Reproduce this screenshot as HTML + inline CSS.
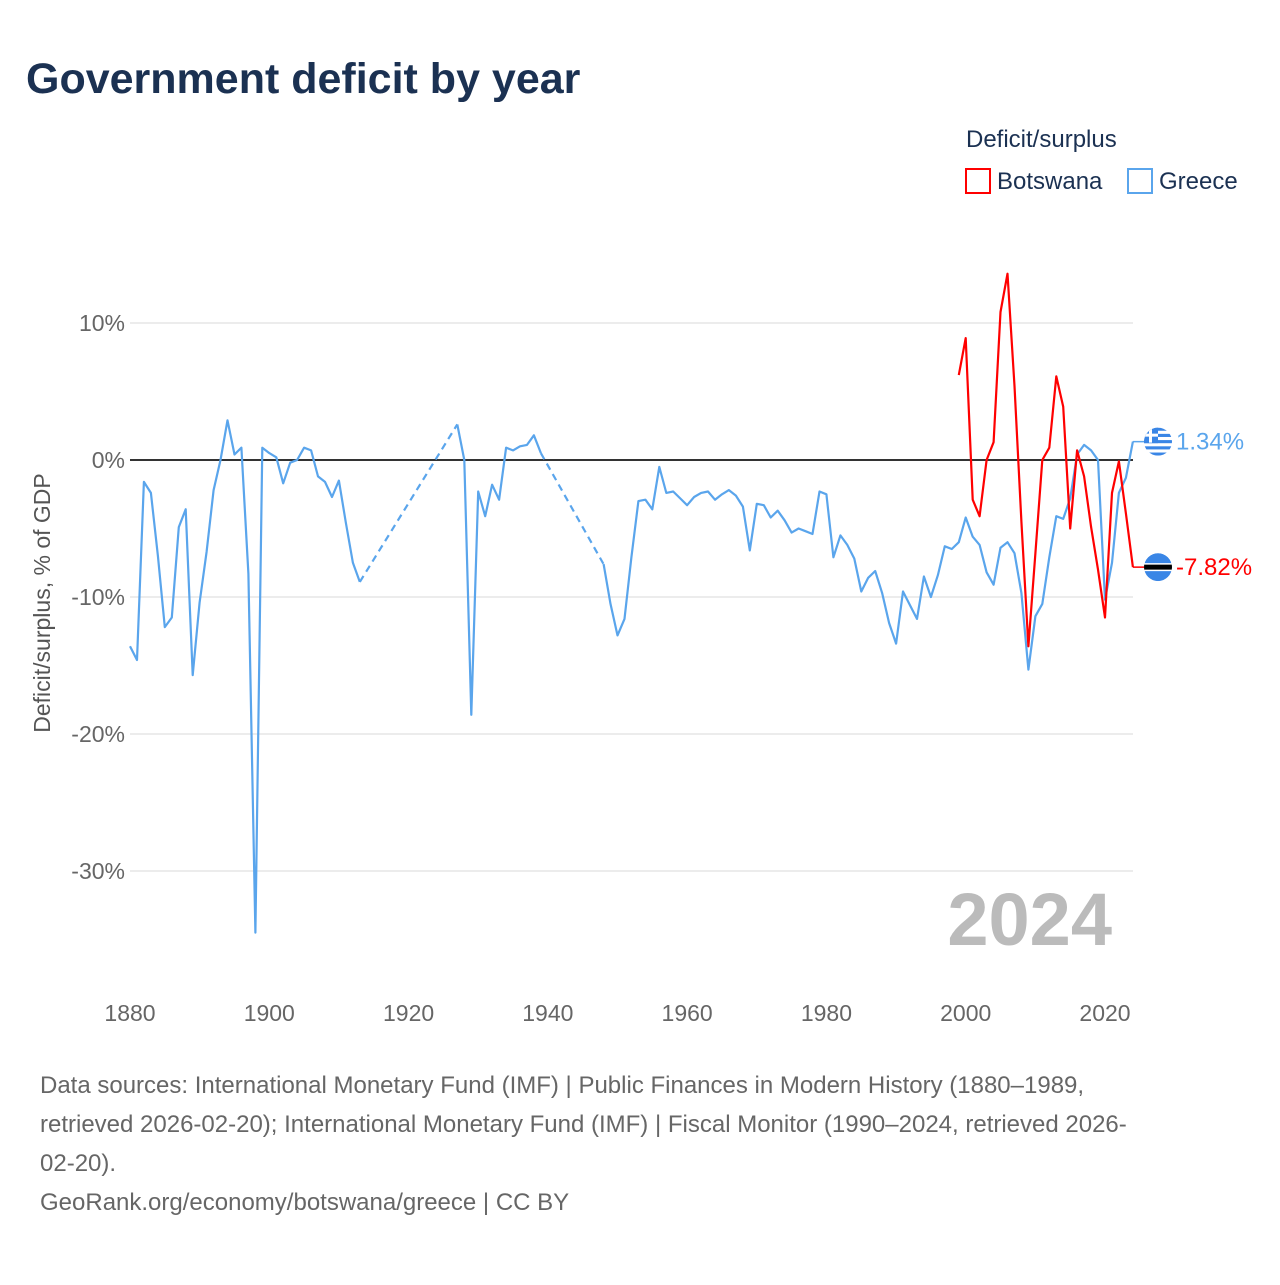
<!DOCTYPE html>
<html><head><meta charset="utf-8"><style>
body{margin:0;background:#fff;font-family:"Liberation Sans",sans-serif;}
svg text{font-family:"Liberation Sans",sans-serif;}
</style></head><body>
<svg id="chart" width="1280" height="1280" xmlns="http://www.w3.org/2000/svg">
<defs>
<clipPath id="clipG"><circle cx="1158" cy="442" r="14"/></clipPath>
</defs>
<text x="26" y="93" font-size="43" font-weight="bold" fill="#1b3152">Government deficit by year</text>
<g>
<text x="966" y="147" font-size="24" fill="#1b3152">Deficit/surplus</text>
<rect x="966" y="169" width="24" height="24" fill="none" stroke="#ff0000" stroke-width="2"/>
<text x="997" y="189" font-size="24" fill="#1b3152">Botswana</text>
<rect x="1128" y="169" width="24" height="24" fill="none" stroke="#5aa5ec" stroke-width="2"/>
<text x="1159" y="189" font-size="24" fill="#1b3152">Greece</text>
</g>
<text transform="translate(50,603) rotate(-90)" text-anchor="middle" font-size="23" fill="#555">Deficit/surplus, % of GDP</text>
<g id="grid"></g><g id="series"></g>
<text x="1112" y="945" text-anchor="end" font-size="74" font-weight="bold" fill="#bbbbbb">2024</text>
<g font-size="24" fill="#666">
<text x="40" y="1093">Data sources: International Monetary Fund (IMF) | Public Finances in Modern History (1880–1989,</text>
<text x="40" y="1132">retrieved 2026-02-20); International Monetary Fund (IMF) | Fiscal Monitor (1990–2024, retrieved 2026-</text>
<text x="40" y="1171">02-20).</text>
<text x="40" y="1210">GeoRank.org/economy/botswana/greece | CC BY</text>
</g>
</svg>
<script>
const yTicks=[10,0,-10,-20,-30];
const yTickLabels=["10%","0%","-10%","-20%","-30%"];
const xTicks=[1880,1900,1920,1940,1960,1980,2000,2020];
const greeceYearsA=[1880,1881,1882,1883,1884,1885,1886,1887,1888,1889,1890,1891,1892,1893,1894,1895,1896,1897,1898,1899,1900,1901,1902,1903,1904,1905,1906,1907,1908,1909,1910,1911,1912,1913];
const greeceValsA=[-13.6,-14.6,-1.6,-2.4,-7,-12.2,-11.5,-4.9,-3.6,-15.7,-10.4,-6.7,-2.2,0,2.9,0.4,0.9,-8.3,-34.5,0.9,0.5,0.2,-1.7,-0.2,0,0.9,0.7,-1.2,-1.6,-2.7,-1.5,-4.6,-7.5,-8.9];
const greeceYearsB=[1927,1928,1929,1930,1931,1932,1933,1934,1935,1936,1937,1938,1939];
const greeceValsB=[2.6,0,-18.6,-2.3,-4.1,-1.8,-2.9,0.9,0.7,1.0,1.1,1.8,0.5];
const greeceYearsC=[1948,1949,1950,1951,1952,1953,1954,1955,1956,1957,1958,1959,1960,1961,1962,1963,1964,1965,1966,1967,1968,1969,1970,1971,1972,1973,1974,1975,1976,1977,1978,1979,1980,1981,1982,1983,1984,1985,1986,1987,1988,1989,1990,1991,1992,1993,1994,1995,1996,1997,1998,1999,2000,2001,2002,2003,2004,2005,2006,2007,2008,2009,2010,2011,2012,2013,2014,2015,2016,2017,2018,2019,2020,2021,2022,2023,2024];
const greeceValsC=[-7.6,-10.5,-12.8,-11.6,-7.1,-3.0,-2.9,-3.6,-0.5,-2.4,-2.3,-2.8,-3.3,-2.7,-2.4,-2.3,-2.9,-2.5,-2.2,-2.6,-3.4,-6.6,-3.2,-3.3,-4.2,-3.7,-4.4,-5.3,-5.0,-5.2,-5.4,-2.3,-2.5,-7.1,-5.5,-6.2,-7.2,-9.6,-8.6,-8.1,-9.7,-11.9,-13.4,-9.6,-10.6,-11.6,-8.5,-10.0,-8.4,-6.3,-6.5,-6.0,-4.2,-5.6,-6.2,-8.2,-9.1,-6.4,-6.0,-6.8,-9.7,-15.3,-11.4,-10.5,-7.1,-4.1,-4.3,-2.8,0.4,1.1,0.7,0.0,-10.2,-7.5,-2.4,-1.3,1.34];
const botswanaYears=[1999,2000,2001,2002,2003,2004,2005,2006,2007,2008,2009,2010,2011,2012,2013,2014,2015,2016,2017,2018,2019,2020,2021,2022,2023,2024];
const botswanaVals=[6.2,8.9,-2.9,-4.1,0.0,1.3,10.8,13.6,5.4,-4.5,-13.6,-6.8,0,0.9,6.1,3.9,-5.0,0.7,-1.2,-4.9,-8.0,-11.5,-2.4,-0.1,-3.9,-7.82];

const NS="http://www.w3.org/2000/svg";
const X=y=>130+(y-1880)*(975/140);
const Y=v=>460-v*13.7;
function mk(tag,attrs,parent){const e=document.createElementNS(NS,tag);for(const k in attrs)e.setAttribute(k,attrs[k]);parent.appendChild(e);return e;}
const grid=document.getElementById('grid'),ser=document.getElementById('series');
const defs=document.querySelector('defs');
yTicks.forEach((t,i)=>{
  if(t!==0){const l=mk('line',{x1:130,x2:1133,y1:Y(t),y2:Y(t),stroke:'#e6e6e6','stroke-width':1.5},grid);
  
  }
  const tx=mk('text',{x:125,y:Y(t)+8,'text-anchor':'end','font-size':23,fill:'#666'},grid);tx.textContent=yTickLabels[i];
  
  
});
xTicks.forEach(t=>{const tx=mk('text',{x:X(t),y:1021,'text-anchor':'middle','font-size':23,fill:'#666'},grid);tx.textContent=t;
  
  });
const zl=mk('line',{x1:130,x2:1133,y1:Y(0),y2:Y(0),stroke:'#333','stroke-width':2},grid);


function pts(ys,vs){return ys.map((y,i)=>X(y).toFixed(1)+','+Y(vs[i]).toFixed(1)).join(' ');}
const GC='#5aa5ec',RC='#ff0000';
[[greeceYearsA,greeceValsA],[greeceYearsB,greeceValsB],[greeceYearsC,greeceValsC]].forEach(([ys,vs])=>{
  const p=mk('polyline',{points:pts(ys,vs),fill:'none',stroke:GC,'stroke-width':2.2,'stroke-linejoin':'round'},ser);
  
  
});
[[greeceYearsA,greeceValsA,greeceYearsB,greeceValsB],[greeceYearsB,greeceValsB,greeceYearsC,greeceValsC]].forEach(([a,av,b,bv])=>{
  const p=mk('line',{x1:X(a[a.length-1]),y1:Y(av[av.length-1]),x2:X(b[0]),y2:Y(bv[0]),stroke:GC,'stroke-width':2.2,'stroke-dasharray':'7,5'},ser);
  
  
});
const bl=mk('polyline',{points:pts(botswanaYears,botswanaVals),fill:'none',stroke:RC,'stroke-width':2.2,'stroke-linejoin':'round'},ser);


let clipN=0;
function endLabel(val,col,name,flag){
  const x0=X(2024),y0=Y(val),cy=y0;
  mk('line',{x1:x0,y1:y0,x2:1144,y2:cy,stroke:col,'stroke-width':1.5},ser);
  const id='flagclip'+(clipN++);
  const cp=mk('clipPath',{id:id},defs);
  mk('circle',{cx:1158,cy:cy,r:14},cp);
  const g=mk('g',{'clip-path':'url(#'+id+')'},ser);
  
  
  flag(g,1158,cy);
  const t=mk('text',{x:1176,y:cy+8,'font-size':24,fill:col},ser);
  t.textContent=(Math.round(val*100)/100).toFixed(2)+'%';
  
  
}
endLabel(greeceValsC[greeceValsC.length-1],GC,'greece',(g,cx,cy)=>{
  mk('circle',{cx,cy,r:14,fill:'#fff'},g);
  for(let i=0;i<9;i+=2)mk('rect',{x:cx-14,y:cy-14+i*28/9,width:28,height:28/9,fill:'#3a86e6'},g);
  mk('rect',{x:cx-14,y:cy-14,width:14,height:15.5,fill:'#3a86e6'},g);
  mk('rect',{x:cx-9,y:cy-14,width:3,height:15,fill:'#fff'},g);
  mk('rect',{x:cx-14,y:cy-8,width:14,height:3,fill:'#fff'},g);
});
endLabel(botswanaVals[botswanaVals.length-1],RC,'botswana',(g,cx,cy)=>{
  mk('circle',{cx,cy,r:14,fill:'#3a86e6'},g);
  mk('rect',{x:cx-14,y:cy-4,width:28,height:8,fill:'#fff'},g);
  mk('rect',{x:cx-14,y:cy-2.5,width:28,height:5,fill:'#000'},g);
});
</script>
</body></html>
